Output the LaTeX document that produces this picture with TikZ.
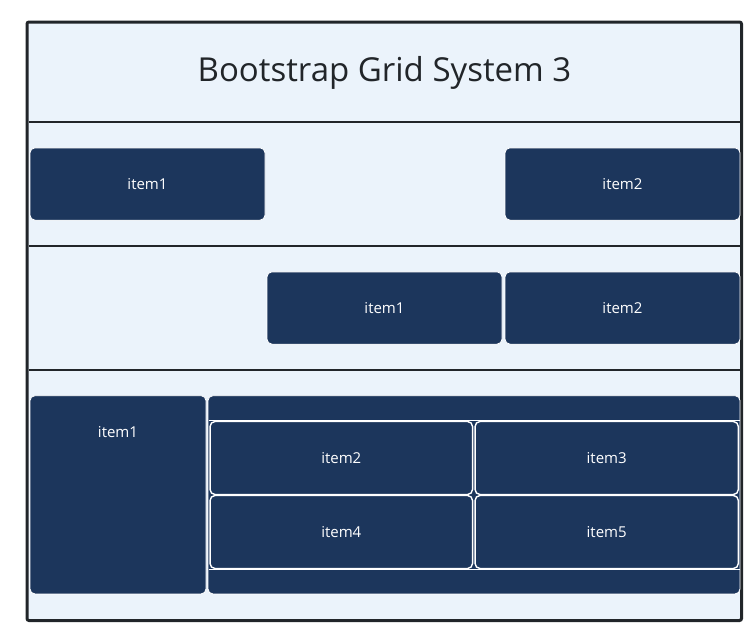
\documentclass[tikz,border=0pt]{standalone}
\usepackage{fontspec}
\setmainfont{Open Sans}
\definecolor{bg}{HTML}{EBF3FB}
\definecolor{dk}{HTML}{1C365C}
\definecolor{fr}{HTML}{212529}
\begin{document}
\begin{tikzpicture}[x=1pt,y=-1pt,
  item/.style={fill=dk, draw=white, line width=0.8pt, rounded corners=5pt, inner sep=0pt,
    text=white, font=\fontsize{15}{18}\selectfont},
  cell/.style={item, line width=1.4pt},
  lbl/.style={text=white, font=\fontsize{15}{18}\selectfont, inner sep=0pt},
  sep/.style={draw=fr, line width=2pt}]
\useasboundingbox (0,0) rectangle (756,637);
\draw[fill=bg, draw=fr, line width=3pt, rounded corners=2pt] (27,22) rectangle (741.5,620.5);
\node[text=fr, font=\fontsize{33}{40}\selectfont, inner sep=0pt] (title) at (384.5,73) {Bootstrap Grid System 3};
\draw[sep] (28.5,122) -- (740,122);
\draw[sep] (28.5,245.8) -- (740,245.8);
\draw[sep] (28.5,369.5) -- (740,369.5);
% row 1
\node[item, minimum width=235pt, minimum height=72.3pt] (r1a) at (147.5,184) {item1};
\node[item, minimum width=235pt, minimum height=72.3pt] (r1b) at (622.5,184) {item2};
% row 2
\node[item, minimum width=235pt, minimum height=72.3pt] (r2a) at (384.5,308) {item1};
\node[item, minimum width=235pt, minimum height=72.3pt] (r2b) at (622.5,308) {item2};
% row 3
\node[item, minimum width=176pt, minimum height=198.3pt] (r3a) at (118,494.8) {};
\node[lbl] (r3al) at (118,432) {item1};
\node[item, minimum width=532pt, minimum height=198.3pt] (r3c) at (474,494.8) {};
\draw[white, line width=1.4pt] (208.5,420.6) -- (739.6,420.6);
\draw[white, line width=1.4pt] (208.5,569.2) -- (739.6,569.2);
\node[cell, minimum width=262.5pt, minimum height=73pt] (r3b2) at (341.3,458) {item2};
\node[cell, minimum width=263.3pt, minimum height=73pt] (r3b3) at (606.7,458) {item3};
\node[cell, minimum width=262.5pt, minimum height=73pt] (r3b4) at (341.3,532) {item4};
\node[cell, minimum width=263.3pt, minimum height=73pt] (r3b5) at (606.7,532) {item5};
\end{tikzpicture}
\end{document}
